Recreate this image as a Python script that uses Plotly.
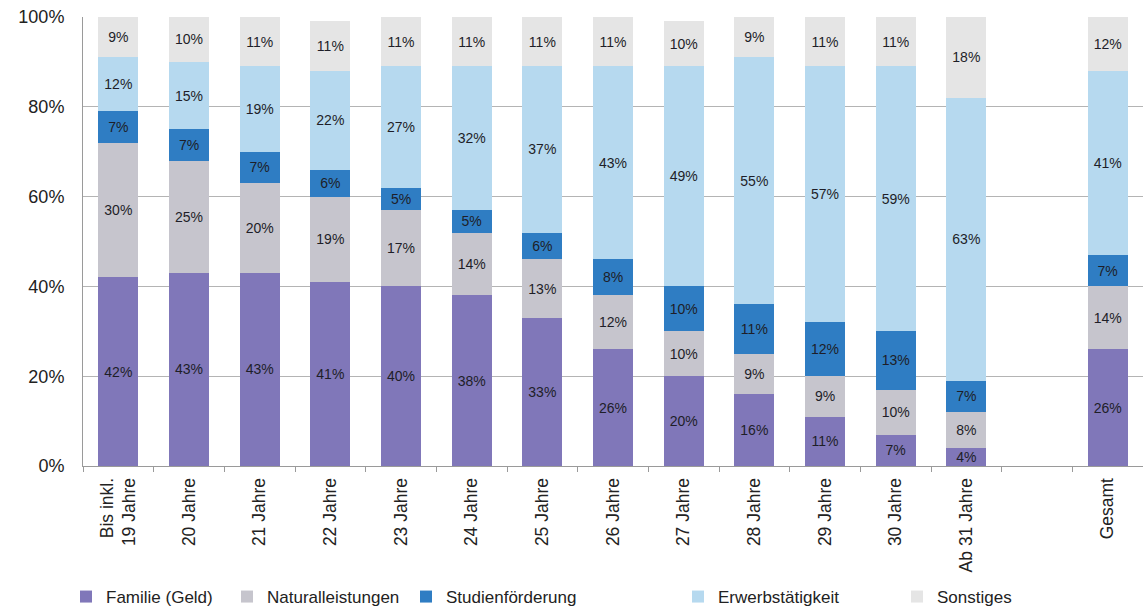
import plotly.graph_objects as go

# Age groups; an empty slot separates the groups from the overall total
categories = ["Bis inkl.<br>19 Jahre", "20 Jahre", "21 Jahre", "22 Jahre", "23 Jahre",
              "24 Jahre", "25 Jahre", "26 Jahre", "27 Jahre", "28 Jahre", "29 Jahre",
              "30 Jahre", "Ab 31 Jahre", " ", "Gesamt"]

familie_geld      = [42, 43, 43, 41, 40, 38, 33, 26, 20, 16, 11, 7, 4, None, 26]
naturalleistungen = [30, 25, 20, 19, 17, 14, 13, 12, 10, 9, 9, 10, 8, None, 14]
studienfoerderung = [7, 7, 7, 6, 5, 5, 6, 8, 10, 11, 12, 13, 7, None, 7]
erwerbstaetigkeit = [12, 15, 19, 22, 27, 32, 37, 43, 49, 55, 57, 59, 63, None, 41]
sonstiges         = [9, 10, 11, 11, 11, 11, 11, 11, 10, 9, 11, 11, 18, None, 12]

series = [
    ("Familie (Geld)", familie_geld, "#8077b9", "legend", 66),
    ("Naturalleistungen", naturalleistungen, "#c6c5cd", "legend2", 227),
    ("Studienförderung", studienfoerderung, "#2f7dc3", "legend3", 406),
    ("Erwerbstätigkeit", erwerbstaetigkeit, "#b6d9ef", "legend4", 678),
    ("Sonstiges", sonstiges, "#e5e5e5", "legend5", 897),
]

W, H = 1143, 609
FONT = "Liberation Sans, Arial, sans-serif"

fig = go.Figure()
layout_legends = {}
for name, vals, color, leg, lx in series:
    fig.add_trace(go.Bar(
        x=categories, y=vals, name=name,
        marker=dict(color=color, line=dict(width=0)),
        width=0.57,
        text=[None if v is None else f"{v}%" for v in vals],
        textposition="inside", insidetextanchor="middle", textangle=0,
        textfont=dict(size=14, color="#1e1e28", family=FONT),
        legend=leg, showlegend=True, hoverinfo="skip",
    ))
    layout_legends[leg] = dict(
        xref="container", yref="container",
        x=lx / W, y=1 - 597 / H, xanchor="left", yanchor="middle",
        orientation="h", bgcolor="rgba(0,0,0,0)",
        font=dict(size=17, color="#222222", family=FONT),
        visible=True,
    )

fig.update_layout(
    barmode="stack",
    width=W, height=H,
    margin=dict(l=83, r=0, t=17, b=143),
    plot_bgcolor="white", paper_bgcolor="white",
    font=dict(family=FONT, color="#222222"),
    uniformtext=dict(minsize=14, mode="show"),
    showlegend=True,
    **layout_legends,
)

fig.update_xaxes(
    type="category", categoryorder="array", categoryarray=categories,
    tickangle=-90, tickfont=dict(size=17.5, color="#222222"),
    ticks="outside", tickson="boundaries", ticklen=5, tickcolor="#9a9a9a",
    ticklabelstandoff=4,
    showline=True, linecolor="#9a9a9a", linewidth=1,
    showgrid=False, range=[-0.5, len(categories) - 0.5],
)
fig.update_yaxes(
    range=[0, 100], dtick=20, ticksuffix="%",
    tickfont=dict(size=18, color="#222222"),
    showgrid=True, gridcolor="#b4b4b4", gridwidth=1,
    showline=True, linecolor="#9a9a9a", linewidth=1,
    ticklabelstandoff=14, zeroline=False,
)

fig.write_html("out.html")
